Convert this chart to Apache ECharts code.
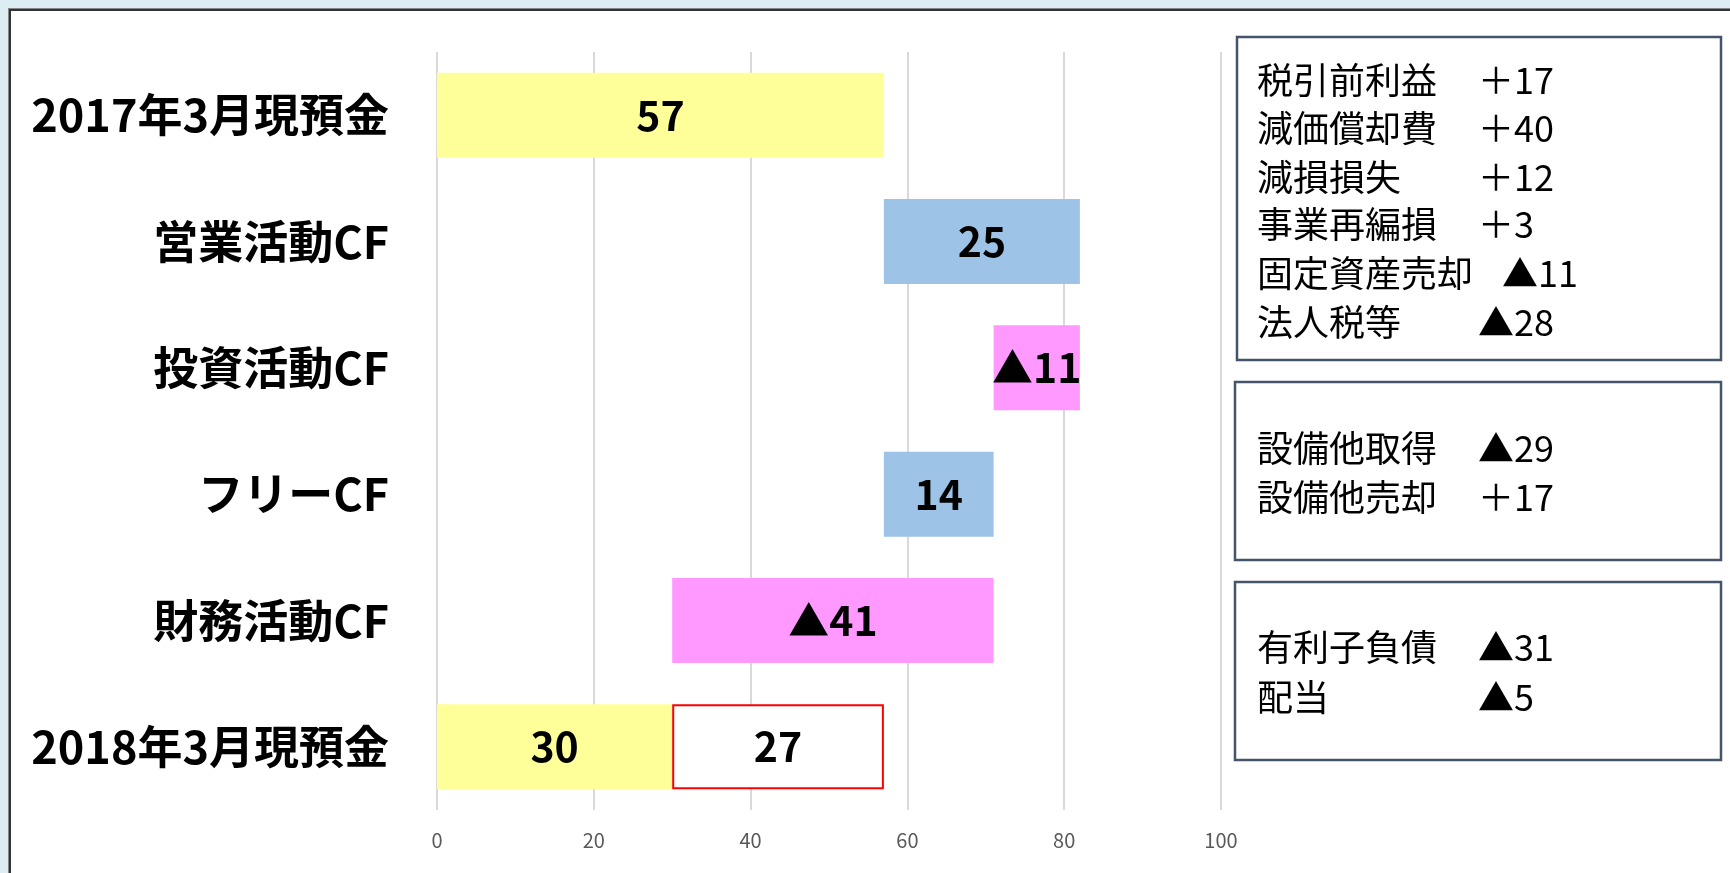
<!DOCTYPE html>
<html><head>
<meta charset="UTF-8">
<title>キャッシュフロー</title>
<script type="text/javascript" src="https://cdn.jsdelivr.net/npm/echarts@6/dist/echarts.min.js"></script>
<style>
body{margin:0;background:#dcedf4;}
#frame{position:absolute;left:9px;top:9px;width:1740px;height:900px;background:#fff;border-left:2px solid #333;border-top:2px solid #333;box-shadow:-1px -1px 0 #888;}
#main{position:absolute;left:0;top:0;width:1730px;height:873px;}
</style>
</head>
<body>
<div id="frame"></div>
<div id="main"></div>
<script type="text/javascript">
// 棒グラフ
var categories = ['2017年3月現預金','営業活動CF','投資活動CF','フリーCF','財務活動CF','2018年3月現預金'];
var baseValues = [0, 57, 71, 57, 30, 0];
var barValues = [57, 25, 11, 14, 41, 30];
var barLabels = ['57','25','▲11','14','▲41','30'];
var barColors = ['#ffff99','#9dc3e6','#ff99ff','#9dc3e6','#ff99ff','#ffff99'];
var diffValues = ['-','-','-','-','-',27];
var diffLabels = ['','','','','','27'];
var xMin = 0, xMax = 100, xStep = 20;

// 内訳ボックス
var box1Items = ['税引前利益','減価償却費','減損損失','事業再編損','固定資産売却','法人税等'];
var box1Values = ['＋17','＋40','＋12','＋3','▲11','▲28'];
var box2Items = ['設備他取得','設備他売却'];
var box2Values = ['▲29','＋17'];
var box3Items = ['有利子負債','配当'];
var box3Values = ['▲31','▲5'];

var FONT = '"Noto Sans CJK JP","Noto Sans",sans-serif';

function boxGraphics(x, y, w, h, rowY, items, values){
	var els = [{type:'rect', shape:{x:x, y:y, width:w, height:h},
		style:{fill:'#fff', stroke:'#44546a', lineWidth:2.5}}];
	for(var i=0;i<items.length;i++){
		els.push({type:'text', x:1257, y:rowY[i],
			style:{text:items[i], fontSize:36, fontFamily:FONT, fill:'#000', verticalAlign:'middle'}});
		var vx = Math.max(1478, 1257 + items[i].length*36.5 + 26);
		els.push({type:'text', x:vx, y:rowY[i],
			style:{text:values[i], fontSize:36, fontFamily:FONT, fill:'#000', verticalAlign:'middle'}});
	}
	return els;
}

var graphics = []
	.concat(boxGraphics(1237, 37, 484, 323, [80,128,177,224,273,322], box1Items, box1Values))
	.concat(boxGraphics(1235, 382, 486, 178, [448,497], box2Items, box2Values))
	.concat(boxGraphics(1235, 582, 486, 178, [647,697], box3Items, box3Values));

var mainData = [];
for(var i=0;i<barValues.length;i++){
	mainData.push({value:barValues[i], itemStyle:{color:barColors[i]}});
}

var option = {
	animation:false,
	textStyle:{fontFamily:FONT},
	grid:{left:437, top:52, width:784, height:758},
	xAxis:{type:'value', min:xMin, max:xMax, interval:xStep,
		axisLine:{show:false}, axisTick:{show:false},
		axisLabel:{fontSize:20, color:'#595959', margin:20, fontFamily:FONT},
		splitLine:{show:true, lineStyle:{color:'#d9d9d9', width:2}}},
	yAxis:{type:'category', inverse:true, data:categories,
		axisLine:{show:false}, axisTick:{show:false},
		axisLabel:{fontSize:45, fontWeight:'bold', color:'#000', margin:48, fontFamily:FONT}},
	graphic:graphics,
	series:[
		{type:'bar', stack:'cf', data:baseValues, barWidth:85,
			itemStyle:{color:'rgba(0,0,0,0)'}, silent:true},
		{type:'bar', stack:'cf', data:mainData, barWidth:85,
			label:{show:true, position:'inside', fontSize:41, fontWeight:'bold', color:'#000', fontFamily:FONT,
				formatter:function(p){return barLabels[p.dataIndex];}}},
		{type:'bar', stack:'cf', data:diffValues, barWidth:85,
			itemStyle:{color:'#fff', borderColor:'#ff0000', borderWidth:2},
			label:{show:true, position:'inside', fontSize:41, fontWeight:'bold', color:'#000', fontFamily:FONT,
				formatter:function(p){return diffLabels[p.dataIndex];}}}
	]
};
var chart = echarts.init(document.getElementById('main'));
chart.setOption(option);
</script>
</body>
</html>
